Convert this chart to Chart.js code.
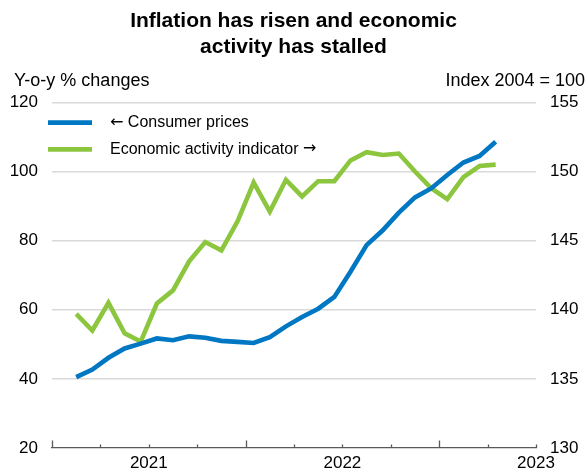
<!DOCTYPE html>
<html><head><meta charset="utf-8">
<script src="https://cdn.jsdelivr.net/npm/chart.js@4/dist/chart.umd.min.js"></script>
<style>html,body{margin:0;padding:0;background:#fff}#wrap{width:587px;height:471px;position:relative}</style>
</head><body><div id="wrap"><canvas id="c" width="587" height="471"></canvas></div>
<script>
// ---- data ----
const months = ['2020-08','2020-09','2020-10','2020-11','2020-12',
  '2021-01','2021-02','2021-03','2021-04','2021-05','2021-06','2021-07','2021-08','2021-09','2021-10','2021-11','2021-12',
  '2022-01','2022-02','2022-03','2022-04','2022-05','2022-06','2022-07','2022-08','2022-09','2022-10'];
const consumerPrices = [40.5, 42.7, 46.1, 48.8, 50.2,
  51.7, 51.2, 52.3, 51.9, 51.0, 50.7, 50.4, 52.1, 55.2, 57.9, 60.3, 63.7,
  71.0, 78.7, 83.0, 88.1, 92.5, 95.1, 99.0, 102.6, 104.5, 108.6];
const activityIndicator = [139.7, 138.5, 140.5, 138.3, 137.7,
  140.45, 141.4, 143.5, 144.9, 144.3, 146.4, 149.2, 147.1, 149.4, 148.2, 149.3, 149.3,
  150.8, 151.4, 151.2, 151.3, 150.0, 148.8, 148.0, 149.6, 150.4, 150.5];
const leftTicks = [20, 40, 60, 80, 100, 120];
const rightTicks = [130, 135, 140, 145, 150, 155];
const yearLabels = ['2021', '2022', '2023'];
const seriesNames = ['\u2190 Consumer prices', 'Economic activity indicator \u2192'];
const titleLines = ['Inflation has risen and economic', 'activity has stalled'];
const leftAxisTitle = 'Y-o-y % changes';
const rightAxisTitle = 'Index 2004 = 100';
const seriesColors = ['#0077c3', '#8cc63f'];

// ---- helpers ----
function monthToYear(s) { const [y, m] = s.split('-').map(Number); return y + (m - 0.5) / 12; }
const FONT = "'Liberation Sans', Arial, sans-serif";
const ARROW_FONT = "'DejaVu Sans', sans-serif";
Chart.defaults.font.family = FONT;
Chart.defaults.color = '#000';

function drawMixed(ctx, text, x, y, size) {
  const parts = text.split(/([\u2190\u2192])/).filter(p => p.length);
  let cx = x;
  parts.forEach(p => {
    ctx.font = size + 'px ' + (/[\u2190\u2192]/.test(p) ? ARROW_FONT : FONT);
    ctx.fillText(p, cx, y);
    cx += ctx.measureText(p).width;
  });
}

const extras = {
  id: 'extras',
  afterDraw(chart) {
    const ctx = chart.ctx, xs = chart.scales.x, area = chart.chartArea;
    ctx.save();
    // x tick marks (drawn upward from axis)
    ctx.strokeStyle = '#595959'; ctx.lineWidth = 1.3;
    xs.ticks.forEach(t => {
      const v = t.value;
      const px = Math.round(xs.getPixelForValue(v)) + 0.5;
      const major = Math.abs((v % 1) - 0.5) < 1e-6;
      const len = major ? 7.5 : 3.5;
      ctx.beginPath(); ctx.moveTo(px, area.bottom); ctx.lineTo(px, area.bottom - len); ctx.stroke();
    });
    // axis titles
    ctx.fillStyle = '#000';
    ctx.font = '18px ' + FONT;
    ctx.textBaseline = 'alphabetic';
    ctx.textAlign = 'left'; ctx.fillText(leftAxisTitle, 14, 86);
    ctx.textAlign = 'right'; ctx.fillText(rightAxisTitle, 585, 86);
    // legend
    ctx.textAlign = 'left'; ctx.textBaseline = 'middle';
    chart.data.datasets.forEach((ds, i) => {
      const y = 122.7 + i * 26.6;
      ctx.strokeStyle = ds.borderColor; ctx.lineWidth = 4.7; ctx.lineCap = 'butt';
      ctx.beginPath(); ctx.moveTo(48, y); ctx.lineTo(92, y); ctx.stroke();
      drawMixed(ctx, ds.label, 110, y, 16);
    });
    ctx.restore();
  }
};

new Chart(document.getElementById('c'), {
  type: 'line',
  data: {
    datasets: [
      { label: seriesNames[0], data: months.map((m, i) => ({ x: monthToYear(m), y: consumerPrices[i] })),
        borderColor: seriesColors[0], borderWidth: 4.6, pointRadius: 0, yAxisID: 'y', tension: 0 },
      { label: seriesNames[1], data: months.map((m, i) => ({ x: monthToYear(m), y: activityIndicator[i] })),
        borderColor: seriesColors[1], borderWidth: 4.6, pointRadius: 0, yAxisID: 'y1', tension: 0 }
    ]
  },
  options: {
    responsive: false, animation: false, devicePixelRatio: 1,
    layout: { padding: 0 },
    plugins: {
      legend: { display: false }, tooltip: { enabled: false },
      title: { display: true, text: titleLines, color: '#000',
        font: { family: FONT, size: 21, weight: 'bold', lineHeight: 1.2 },
        padding: { top: 9, bottom: 43 } }
    },
    scales: {
      x: {
        type: 'linear', position: 'bottom', min: 2020.5, max: 2023,
        afterBuildTicks(s) { const t = []; for (let v = 2020.5; v <= 2023.0001; v += 0.25) t.push({ value: v }); s.ticks = t; },
        ticks: { autoSkip: false, maxRotation: 0, font: { size: 17 }, padding: 5,
          callback: v => { const l = yearLabels.find(y => Math.abs(Number(y) - v) < 1e-6); return l || ''; } },
        grid: { display: false, drawTicks: false },
        border: { display: true, color: '#595959', width: 1.3 },
        afterFit(s) { s.height = 23; s.paddingLeft = 0; s.paddingRight = 0; }
      },
      y: {
        position: 'left', min: leftTicks[0], max: leftTicks[leftTicks.length - 1],
        afterBuildTicks(s) { s.ticks = leftTicks.map(v => ({ value: v })); },
        ticks: { font: { size: 17 }, padding: 14 },
        grid: { color: c => (c.tick && c.tick.value === leftTicks[0]) ? 'rgba(0,0,0,0)' : '#d9d9d9', lineWidth: 1.5, drawTicks: false },
        border: { display: false },
        afterFit(s) { s.width = 52; s.paddingTop = 0; s.paddingBottom = 0; }
      },
      y1: {
        position: 'right', min: rightTicks[0], max: rightTicks[rightTicks.length - 1],
        afterBuildTicks(s) { s.ticks = rightTicks.map(v => ({ value: v })); },
        ticks: { font: { size: 17 }, padding: 14 },
        grid: { display: false, drawTicks: false },
        border: { display: false },
        afterFit(s) { s.width = 51; s.paddingTop = 0; s.paddingBottom = 0; }
      }
    }
  },
  plugins: [extras]
});
</script>
</body></html>
